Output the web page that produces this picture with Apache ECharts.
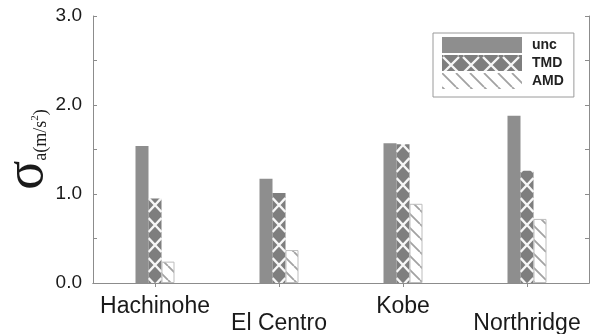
<!DOCTYPE html>
<html>
<head>
<meta charset="utf-8">
<script src="https://cdn.jsdelivr.net/npm/echarts@6/dist/echarts.min.js"></script>
<style>
  html, body { margin: 0; padding: 0; background: #fff; }
  #chart { width: 600px; height: 334px; }
</style>
</head>
<body>
<div id="chart"></div>
<script>
// Earthquake records and RMS acceleration response (m/s^2)
const records = ['Hachinohe', 'El Centro', 'Kobe', 'Northridge'];
const uncValues = [1.54, 1.17, 1.57, 1.88];
const tmdValues = [0.95, 1.01, 1.56, 1.26];
const amdValues = [0.24, 0.37, 0.89, 0.72];
const yTicks = [0, 0.5, 1, 1.5, 2, 2.5, 3];

const AXIS_GREY = '#8c8c8c';
const UNC_GREY = '#8e8e8e';
const TMD_GREY = '#7e7e7e';

function drawX(g, cx, cy, hw, hh) {
  g.beginPath();
  g.moveTo(cx - hw, cy - hh); g.lineTo(cx + hw, cy + hh);
  g.moveTo(cx + hw, cy - hh); g.lineTo(cx - hw, cy + hh);
  g.stroke();
}

// cross-hatched fill: white crosses stacked up the TMD bars
function tmdBarPattern() {
  const c = document.createElement('canvas');
  c.width = 124; c.height = 20;
  const g = c.getContext('2d');
  g.fillStyle = TMD_GREY; g.fillRect(0, 0, c.width, c.height);
  g.strokeStyle = '#f6f6f6'; g.lineWidth = 2.4; g.lineCap = 'butt';
  [-15, 5, 25].forEach(y => drawX(g, 31, y, 6.5, 7));
  return { image: c, repeat: 'repeat' };
}

function tmdLegendPattern() {
  const c = document.createElement('canvas');
  c.width = 20; c.height = 18;
  const g = c.getContext('2d');
  g.fillStyle = TMD_GREY; g.fillRect(0, 0, c.width, c.height);
  g.strokeStyle = '#f6f6f6'; g.lineWidth = 2.4;
  drawX(g, 10, 9, 8, 8);
  return { image: c, repeat: 'repeat', x: 439, y: 55 };
}

// light diagonal hatching for the AMD bars
function amdPattern() {
  const c = document.createElement('canvas');
  c.width = 14; c.height = 14;
  const g = c.getContext('2d');
  g.fillStyle = '#ffffff'; g.fillRect(0, 0, 14, 14);
  g.strokeStyle = '#a2a2a2'; g.lineWidth = 1.8;
  g.beginPath();
  [-14, 0, 14].forEach(k => { g.moveTo(k, 0); g.lineTo(k + 14, 14); });
  g.stroke();
  return { image: c, repeat: 'repeat' };
}

const chart = echarts.init(document.getElementById('chart'), null, { renderer: 'canvas' });

const tmdFill = tmdBarPattern();
const amdFill = amdPattern();

const valueAxisBase = {
  type: 'value',
  min: 0, max: 3, interval: 0.5,
  axisLine: { show: true, lineStyle: { color: AXIS_GREY, width: 1 } },
  axisTick: { show: true, inside: true, length: 4, lineStyle: { color: AXIS_GREY } },
  splitLine: { show: false }
};

chart.setOption({
  animation: false,
  backgroundColor: '#fff',
  grid: { left: 93, right: 11, top: 16, bottom: 51, outerBoundsMode: 'none' },
  legend: {
    orient: 'vertical',
    left: 433, top: 33,
    padding: [4, 10, 8, 9],
    borderColor: '#9a9a9a', borderWidth: 1,
    itemWidth: 80, itemHeight: 16, itemGap: 2,
    icon: 'rect',
    textStyle: { fontFamily: 'Liberation Sans', fontSize: 14, fontWeight: 'bold', color: '#222', padding: [0, 0, 0, 5] },
    data: [
      { name: 'unc', itemStyle: { color: UNC_GREY, borderWidth: 0 } },
      { name: 'TMD', itemStyle: { color: tmdLegendPattern(), borderWidth: 0 } },
      { name: 'AMD', itemStyle: { color: amdFill, borderWidth: 0 } }
    ]
  },
  xAxis: [
    {
      type: 'category',
      data: records,
      position: 'bottom',
      axisLine: { show: true, lineStyle: { color: AXIS_GREY, width: 1 } },
      axisTick: { show: false },
      axisLabel: {
        interval: 0,
        margin: 15,
        fontFamily: 'Liberation Sans', fontSize: 23, color: '#1a1a1a',
        lineHeight: 17,
        formatter: (v, i) => (i % 2 ? '\n' + v : v)
      }
    },
    {
      type: 'category',
      data: records,
      position: 'top',
      axisLine: { show: true, lineStyle: { color: AXIS_GREY, width: 1 } },
      axisTick: { show: true, inside: true, interval: 0, alignWithLabel: true, length: 4, lineStyle: { color: AXIS_GREY } },
      axisLabel: { show: false, interval: 0 }
    }
  ],
  yAxis: [
    Object.assign({}, valueAxisBase, {
      position: 'left',
      axisLabel: {
        margin: 11,
        fontFamily: 'Liberation Sans', fontSize: 19, color: '#1a1a1a',
        formatter: v => (yTicks.includes(v) && v % 1 === 0 ? v.toFixed(1) : '')
      },
      name: '{s|σ}{a|a(m/s}{p|2}{a|)}',
      nameLocation: 'middle',
      nameRotate: 90,
      nameGap: 38,
      nameMoveOverlap: false,
      nameTextStyle: {
        rich: {
          s: { fontFamily: 'Liberation Serif', fontSize: 54, color: '#1a1a1a', verticalAlign: 'bottom', lineHeight: 54 },
          a: { fontFamily: 'Liberation Serif', fontSize: 18, color: '#1a1a1a', verticalAlign: 'bottom', lineHeight: 18, padding: [0, 0, 5, 0] },
          p: { fontFamily: 'Liberation Serif', fontSize: 11, color: '#1a1a1a', verticalAlign: 'bottom', lineHeight: 11, padding: [0, 0, 14, 0] }
        }
      }
    }),
    Object.assign({}, valueAxisBase, {
      position: 'right',
      axisLabel: { show: false }
    })
  ],
  series: [
    {
      name: 'unc', type: 'bar', xAxisIndex: 0, yAxisIndex: 0,
      data: uncValues, barWidth: 13, barGap: '0%',
      itemStyle: { color: UNC_GREY }
    },
    {
      name: 'TMD', type: 'bar', xAxisIndex: 0, yAxisIndex: 0,
      data: tmdValues, barWidth: 13, barGap: '0%',
      itemStyle: { color: tmdFill }
    },
    {
      name: 'AMD', type: 'bar', xAxisIndex: 0, yAxisIndex: 0,
      data: amdValues, barWidth: 13, barGap: '0%',
      itemStyle: { color: amdFill, borderColor: '#bdbdbd', borderWidth: 1 }
    }
  ]
});
</script>
</body>
</html>
